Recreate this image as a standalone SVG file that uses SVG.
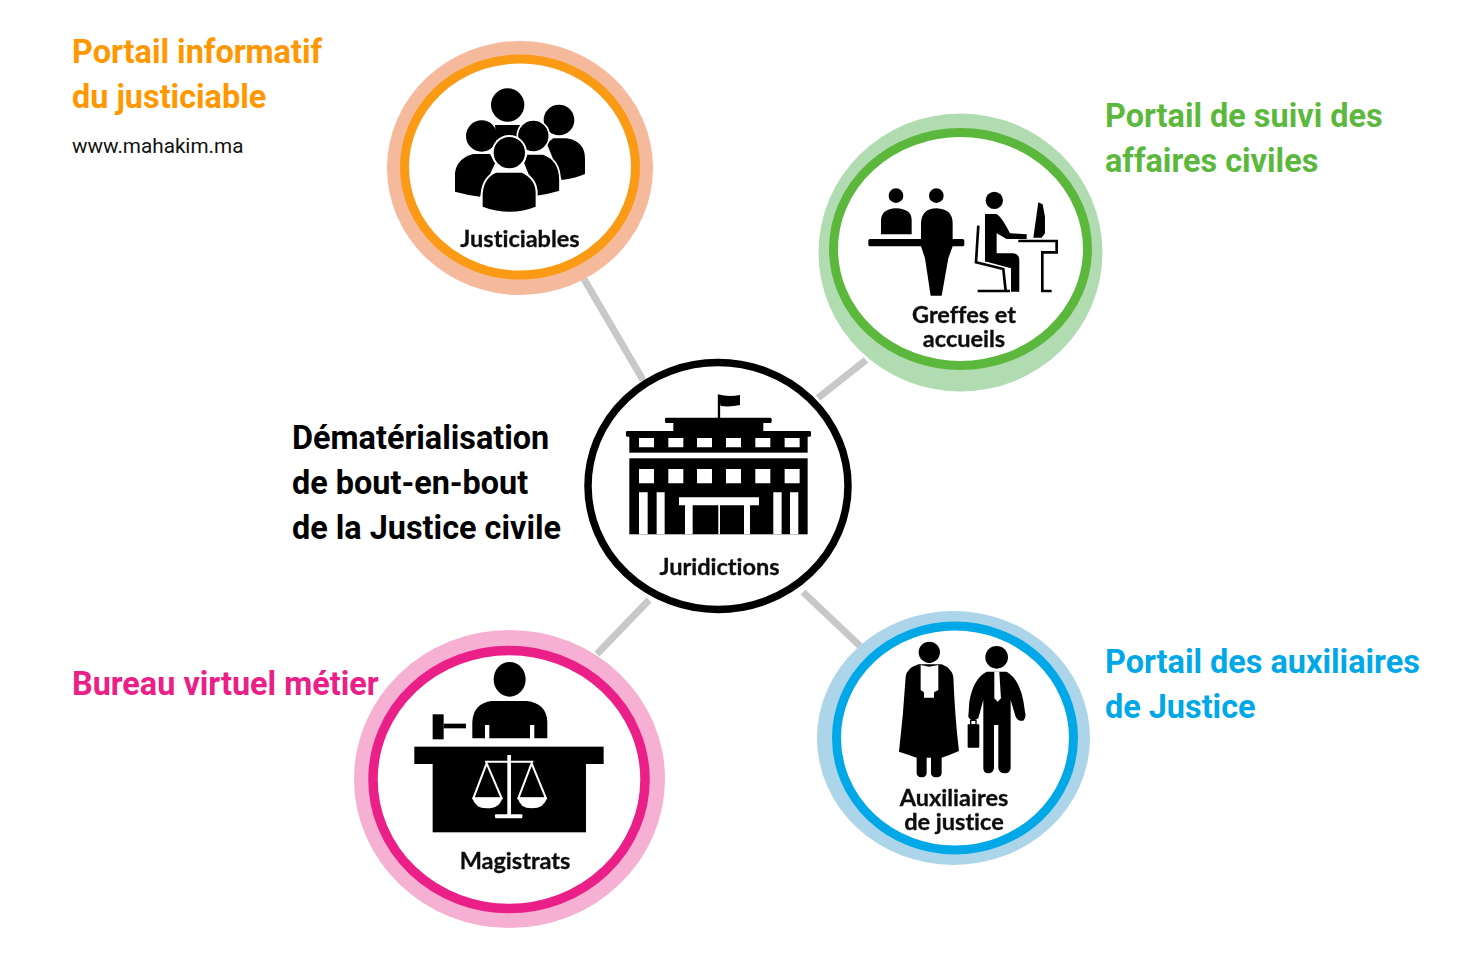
<svg xmlns="http://www.w3.org/2000/svg" width="1469" height="964" viewBox="0 0 1469 964">
<defs>
<style>
.h{font-family:Roboto,"Liberation Sans",sans-serif;font-weight:700;font-size:32.4px}
.l{font-family:Lato,"Open Sans",sans-serif;font-weight:700;font-size:23.5px;fill:#111;stroke:#111;stroke-width:.35;text-anchor:middle;font-variant-ligatures:none;filter:url(#soft)}
.c{stroke:#c8c8c8;stroke-width:7;fill:none}
.ic{fill:#000}
.w{fill:#fff}
.ws{fill:none;stroke:#fff}
</style>
<filter id="soft" x="-5%" y="-5%" width="110%" height="110%"><feGaussianBlur stdDeviation="0.4"/></filter>
</defs>
<rect width="1469" height="964" fill="#fff"/>
<g id="connectors">
<line class="c" x1="584" y1="279" x2="643" y2="380"/>
<line class="c" x1="866" y1="360" x2="818" y2="398"/>
<line class="c" x1="649" y1="600" x2="597" y2="654"/>
<line class="c" x1="803" y1="592" x2="860" y2="646"/>
</g>
<g id="justiciables">
<ellipse cx="520" cy="168" rx="133" ry="127" fill="#f5b99b"/>
<ellipse cx="520" cy="167" rx="115.5" ry="108" fill="#fff" stroke="#fb9a14" stroke-width="9"/>
<g transform="translate(380 30) scale(.3333)" filter="url(#soft)">
<path class="ic" d="M345 285H420L415 330H350Z"/>
<circle class="ic" cx="383" cy="225" r="50"/>
<circle class="ic" cx="537" cy="270" r="46"/>
<path class="ic" d="M520 325H560Q615 335 615 385V432Q585 445 545 450L500 340Z"/>
<path class="ic" d="M440 372H490Q540 390 540 450V485Q505 495 470 500L430 400Z" stroke="#fff" stroke-width="5"/>
<circle class="ic" cx="460" cy="318" r="48" stroke="#fff" stroke-width="5"/>
<path class="ic" d="M280 372H330L345 400L300 500Q260 495 225 485V430Q230 385 280 372Z"/>
<circle class="ic" cx="305" cy="318" r="47"/>
<path class="ic" d="M350 425H425Q470 445 470 490V532Q390 565 305 532V490Q310 440 350 425Z" stroke="#fff" stroke-width="6"/>
<circle class="ic" cx="388" cy="368" r="50" stroke="#fff" stroke-width="6"/>
</g>
<text class="l" x="520" y="247">Justiciables</text>
</g>
<g id="greffes">
<ellipse cx="960.5" cy="252.5" rx="142" ry="139" fill="#b1dcb2"/>
<ellipse cx="960.5" cy="249" rx="127" ry="116.5" fill="#fff" stroke="#5cb83c" stroke-width="9"/>
<g transform="translate(810 105) scale(.3333)" filter="url(#soft)">
<circle class="ic" cx="258" cy="272" r="22"/>
<circle class="ic" cx="379" cy="272" r="22"/>
<circle class="ic" cx="553" cy="286" r="26"/>
<path class="ic" d="M213 388V345Q215 312 258 310Q305 312 305 345V388Z"/>
<rect class="ic" x="175" y="402" width="288" height="22" rx="5"/>
<path class="ic" d="M333 402V355Q335 310 380 310Q428 312 428 355V424L415 460L395 572H362L345 460L333 424Z"/>
<path class="ic" d="M525 327H560Q575 335 600 385L650 388V402L590 402L560 385V445H610Q628 448 628 465V560H603V490L530 470L525 470Z"/>
<path fill="none" stroke="#000" stroke-width="8" d="M505 362L498 472L580 492L587 558M503 558H600"/>
<path class="ic" d="M685 292L698 298L705 335V385L695 398H670L672 385Z"/>
<path fill="none" stroke="#000" stroke-width="8" d="M625 408H740V442H697V558H725"/>
</g>
<text class="l" x="964" y="323">Greffes et</text>
<text class="l" x="964" y="347">accueils</text>
</g>
<g id="juridictions">
<ellipse cx="718" cy="486" rx="130" ry="123.5" fill="#fff" stroke="#000" stroke-width="7.5"/>
<g transform="translate(575 350) scale(.3333)" filter="url(#soft)">
<path fill="none" stroke="#000" stroke-width="7" d="M432 135V205"/>
<path class="ic" d="M428 133Q460 142 495 135V165Q465 172 437 168Z"/>
<rect class="ic" x="270" y="203" width="320" height="16" rx="4"/>
<rect class="ic" x="295" y="218" width="270" height="28"/>
<rect class="ic" x="153" y="243" width="555" height="17" rx="4"/>
<rect class="ic" x="163" y="258" width="535" height="50"/>
<rect class="ic" x="163" y="325" width="535" height="228"/>
<path class="w" d="M192 264h45v28h-45zM280 264h45v28h-45zM366 264h45v28h-45zM453 264h45v28h-45zM541 264h45v28h-45zM629 264h45v28h-45zM192 357h45v43h-45zM280 357h45v43h-45zM366 357h45v43h-45zM453 357h45v43h-45zM541 357h45v43h-45zM629 357h45v43h-45zM192 427h26v126h-26zM245 427h24v126h-24zM595 427h25v126h-25zM645 427h25v126h-25zM312 442h240v24h-240zM330 466h23v87h-23zM430 466h5v87h-5zM507 466h18v87h-18z"/>
</g>
<text class="l" x="719.5" y="575">Juridictions</text>
</g>
<g id="magistrats">
<ellipse cx="509.5" cy="779" rx="155.5" ry="149" fill="#f5b0d3"/>
<ellipse cx="509" cy="779.5" rx="136" ry="129" fill="#fff" stroke="#ea2088" stroke-width="9.5"/>
<g transform="translate(345 625) scale(.3333)" filter="url(#soft)">
<ellipse class="ic" cx="494" cy="163" rx="48" ry="52"/>
<path class="ic" d="M382 340V290Q385 235 440 228H545Q605 235 607 290V340H568V300H555V340H433V300H420V340Z"/>
<rect class="ic" x="263" y="268" width="33" height="75"/>
<rect class="ic" x="296" y="296" width="67" height="14"/>
<rect class="ic" x="208" y="365" width="568" height="52"/>
<rect class="ic" x="263" y="417" width="460" height="205"/>
<rect class="w" x="487" y="390" width="11" height="182"/>
<rect class="w" x="450" y="568" width="82" height="12" rx="3"/>
<path class="ws" stroke-width="6" d="M420 410H565M425 415L385 520H470ZM560 415L520 520H603Z"/>
<path class="w" d="M382 518H472Q465 550 425 550Q390 550 382 518ZM518 518H606Q598 550 560 550Q525 550 518 518Z"/>
</g>
<text class="l" x="515" y="869">Magistrats</text>
</g>
<g id="auxiliaires">
<ellipse cx="953.5" cy="738" rx="136.5" ry="127" fill="#add5ea"/>
<ellipse cx="955" cy="738" rx="118.5" ry="112" fill="#fff" stroke="#00a8e8" stroke-width="9"/>
<g transform="translate(810 605) scale(.3333)" filter="url(#soft)">
<circle class="ic" cx="358" cy="142" r="32"/>
<path class="ic" d="M325 178Q290 190 287 215Q280 330 267 440Q300 450 320 458H395Q420 450 447 438Q435 340 430 215Q425 190 395 178Z"/>
<path class="w" d="M332 180V255L342 262V278H372V262L385 255V180L358 185Z"/>
<rect class="ic" x="320" y="445" width="30" height="72" rx="13"/>
<rect class="ic" x="363" y="445" width="32" height="72" rx="13"/>
<circle class="ic" cx="560" cy="157" r="34"/>
<path class="ic" d="M530 200Q490 220 478 290L475 335Q480 347 495 345L505 340L520 285V490Q520 505 535 505Q550 505 552 490V360H565V490Q567 505 585 505Q600 505 602 490V285L617 335Q625 350 640 347Q650 340 645 320Q635 225 590 200Z"/>
<path class="w" d="M553 200H568L573 280L563 290L553 280Z"/>
<rect class="ic" x="473" y="358" width="35" height="70" rx="3"/>
<rect x="482" y="346" width="16" height="14" fill="none" stroke="#000" stroke-width="4"/>
</g>
<text class="l" x="954" y="806">Auxiliaires</text>
<text class="l" x="954" y="830">de justice</text>
</g>
<g id="titles">
<text class="h" fill="#ff9800" x="72" y="62.5">Portail informatif</text>
<text class="h" fill="#ff9800" x="72" y="107.5">du justiciable</text>
<text x="72" y="153" font-family="Roboto,sans-serif" font-size="20.7" fill="#111">www.mahakim.ma</text>
<text class="h" fill="#5cb83c" x="1105" y="126.5">Portail de suivi des</text>
<text class="h" fill="#5cb83c" x="1105" y="171.5">affaires civiles</text>
<text class="h" fill="#000" x="292" y="448.5">Dématérialisation</text>
<text class="h" fill="#000" x="292" y="493.5">de bout-en-bout</text>
<text class="h" fill="#000" x="292" y="538.5">de la Justice civile</text>
<text class="h" fill="#ea2088" x="72" y="694.5">Bureau virtuel métier</text>
<text class="h" fill="#00a8e8" x="1105" y="672.5">Portail des auxiliaires</text>
<text class="h" fill="#00a8e8" x="1105" y="717.5">de Justice</text>
</g>
</svg>
